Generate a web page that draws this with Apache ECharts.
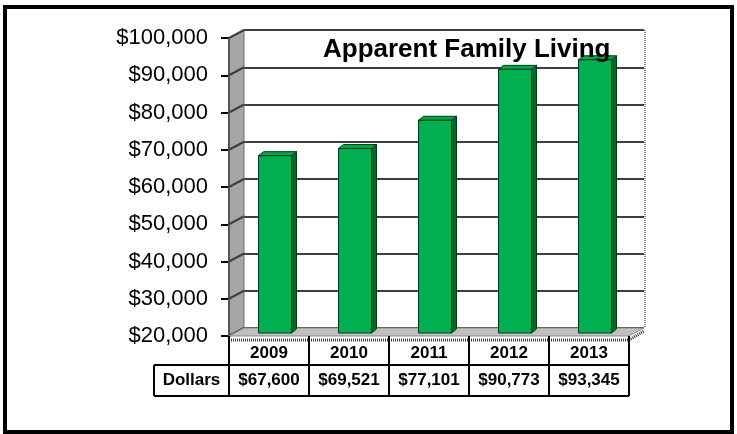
<!DOCTYPE html>
<html>
<head>
<meta charset="utf-8">
<script src="https://cdn.jsdelivr.net/npm/echarts@6/dist/echarts.min.js"></script>
<style>
  html, body { margin: 0; padding: 0; background: #fff; }
  #chart { width: 737px; height: 434px; }
</style>
</head>
<body>
<div id="chart"></div>
<script>
// Yearly figures
const years = ['2009', '2010', '2011', '2012', '2013'];
const dollars = [67600, 69521, 77101, 90773, 93345];
const rowLabel = 'Dollars';
const chartTitle = 'Apparent Family Living';
const yMin = 20000;
const yMax = 100000;
const yStep = 10000;

const FONT = '"Liberation Sans", Arial, sans-serif';
// depth of the 3D box (back wall offset from the front plane)
const DX = 15, DY = -8;
// bars sit part-way into the box
const BAR_DX = 6, BAR_DY = -3;
const BAR_W = 33, BAR_SIDE = 5, BAR_TOP = 4;

function money(v) {
  return '$' + v.toLocaleString('en-US');
}

const chart = echarts.init(document.getElementById('chart'));

// walls, floor and grid connectors on the side wall
function renderScene(params, api) {
  const bw = api.size([1, 0])[0];
  const x0 = api.coord([0, yMin])[0] - bw / 2;
  const x1 = api.coord([years.length - 1, yMin])[0] + bw / 2;
  const yTop = api.coord([0, yMax])[1];
  const yBot = api.coord([0, yMin])[1];
  const children = [];
  // left side wall
  children.push({
    type: 'polygon',
    shape: { points: [[x0, yTop], [x0 + DX, yTop + DY], [x0 + DX, yBot + DY], [x0, yBot]] },
    style: { fill: '#a6a6a6', stroke: '#6e6e6e', lineWidth: 1 }
  });
  children.push({
    type: 'line',
    shape: { x1: x0, y1: yTop, x2: x0, y2: yBot },
    style: { stroke: '#555', lineWidth: 2 }
  });
  // grid connectors across the side wall
  for (let v = yMin; v <= yMax; v += yStep) {
    const y = api.coord([0, v])[1];
    children.push({
      type: 'line',
      shape: { x1: x0, y1: y, x2: x0 + DX, y2: y + DY },
      style: { stroke: '#3f3f3f', lineWidth: 2 }
    });
  }
  // floor
  children.push({
    type: 'polygon',
    shape: { points: [[x0, yBot], [x0 + DX, yBot + DY], [x1 + DX, yBot + DY], [x1, yBot]] },
    style: { fill: '#bfbfbf', stroke: '#8c8c8c', lineWidth: 1 }
  });
  // right edge of the back wall
  children.push({
    type: 'line',
    shape: { x1: x1 + DX + 1, y1: yTop + DY, x2: x1 + DX + 1, y2: yBot + DY },
    style: { stroke: '#8a8a8a', lineWidth: 2, lineDash: [1, 1] }
  });
  // front floor edge
  children.push({
    type: 'polyline',
    shape: { points: [[x0, yBot + 4], [x1, yBot + 4], [x1 + DX, yBot + DY + 3]] },
    style: { stroke: '#3a3a3a', lineWidth: 3, lineDash: [1, 1], fill: null }
  });
  return { type: 'group', children: children };
}

function renderBar(params, api) {
  const i = api.value(0);
  const top = api.coord([i, api.value(1)]);
  const base = api.coord([i, yMin]);
  const xl = top[0] - BAR_W / 2 + BAR_DX;
  const xr = xl + BAR_W;
  const yt = top[1] + BAR_DY;
  const yb = base[1] + BAR_DY;
  return {
    type: 'group',
    children: [
      {
        type: 'polygon',
        shape: { points: [[xr, yt], [xr + BAR_SIDE, yt - BAR_TOP], [xr + BAR_SIDE, yb - BAR_TOP], [xr, yb]] },
        style: { fill: '#006a2c', stroke: '#003a17', lineWidth: 1 }
      },
      {
        type: 'polygon',
        shape: { points: [[xl, yt], [xl + BAR_SIDE, yt - BAR_TOP], [xr + BAR_SIDE, yt - BAR_TOP], [xr, yt]] },
        style: { fill: '#00a84c', stroke: '#003a17', lineWidth: 1 }
      },
      {
        type: 'rect',
        shape: { x: xl, y: yt, width: BAR_W, height: yb - yt },
        style: { fill: '#00b050', stroke: '#003a17', lineWidth: 1 }
      }
    ]
  };
}

// data table under the axis
function renderTable(params, api) {
  const i = api.value(0);
  const bw = api.size([1, 0])[0];
  const cx = api.coord([i, yMin])[0];
  const base = api.coord([i, yMin])[1];
  const xl = cx - bw / 2;
  const r1 = base + 4, r2 = base + 29, r3 = base + 60;
  const cellFont = 'bold 17px ' + FONT;
  const children = [
    { type: 'line', shape: { x1: xl, y1: base, x2: xl, y2: r3 }, style: { stroke: '#000', lineWidth: 2 } },
    { type: 'line', shape: { x1: xl + bw, y1: base, x2: xl + bw, y2: r3 }, style: { stroke: '#000', lineWidth: 2 } },
    { type: 'line', shape: { x1: xl, y1: r2, x2: xl + bw, y2: r2 }, style: { stroke: '#000', lineWidth: 2 } },
    { type: 'line', shape: { x1: xl, y1: r3, x2: xl + bw, y2: r3 }, style: { stroke: '#000', lineWidth: 2 } },
    { type: 'text', style: { text: years[i], x: cx, y: (r1 + r2) / 2 + 1, textAlign: 'center', textVerticalAlign: 'middle', font: cellFont, fill: '#000' } },
    { type: 'text', style: { text: money(dollars[i]), x: cx, y: (r2 + r3) / 2, textAlign: 'center', textVerticalAlign: 'middle', font: cellFont, fill: '#000' } }
  ];
  if (i === 0) {
    const lx = xl - 75;
    children.push(
      { type: 'line', shape: { x1: lx, y1: r2, x2: xl, y2: r2 }, style: { stroke: '#000', lineWidth: 2 } },
      { type: 'line', shape: { x1: lx, y1: r3, x2: xl, y2: r3 }, style: { stroke: '#000', lineWidth: 2 } },
      { type: 'line', shape: { x1: lx, y1: r2, x2: lx, y2: r3 }, style: { stroke: '#000', lineWidth: 2 } },
      { type: 'text', style: { text: rowLabel, x: (lx + xl) / 2, y: (r2 + r3) / 2, textAlign: 'center', textVerticalAlign: 'middle', font: cellFont, fill: '#000' } }
    );
  }
  return { type: 'group', children: children };
}

chart.setOption({
  animation: false,
  backgroundColor: '#fff',
  title: {
    text: chartTitle,
    left: 318,
    top: 32,
    textStyle: { fontFamily: FONT, fontSize: 26, fontWeight: 'bold', color: '#000' }
  },
  graphic: [{
    type: 'rect',
    shape: { x: 5, y: 7, width: 727, height: 425 },
    style: { fill: null, stroke: '#000', lineWidth: 4 },
    z: 100
  }],
  grid: [
    { left: 229, top: 38, width: 400, height: 298 },
    { left: 244, top: 30, width: 400, height: 298, show: true, backgroundColor: '#fff', borderWidth: 0 }
  ],
  xAxis: [
    { gridIndex: 0, type: 'category', data: years, show: false },
    { gridIndex: 1, type: 'category', data: years, show: false }
  ],
  yAxis: [
    {
      gridIndex: 0, type: 'value', min: yMin, max: yMax, interval: yStep,
      axisLine: { show: false },
      axisTick: { show: true, length: 8, lineStyle: { color: '#000', width: 2 } },
      axisLabel: { formatter: money, fontFamily: FONT, fontSize: 22, color: '#000', margin: 21 },
      splitLine: { show: false }
    },
    {
      gridIndex: 1, type: 'value', min: yMin, max: yMax, interval: yStep,
      axisLine: { show: false }, axisTick: { show: false }, axisLabel: { show: false },
      splitLine: { show: true, lineStyle: { color: '#3f3f3f', width: 2 } }
    }
  ],
  series: [
    {
      type: 'custom', name: 'scene', xAxisIndex: 0, yAxisIndex: 0,
      renderItem: renderScene, data: [[0, yMin]], z: 1, silent: true
    },
    {
      type: 'custom', name: rowLabel, xAxisIndex: 0, yAxisIndex: 0,
      renderItem: renderBar, data: dollars.map((v, i) => [i, v]), z: 3
    },
    {
      type: 'custom', name: 'table', xAxisIndex: 0, yAxisIndex: 0,
      renderItem: renderTable, data: years.map((y, i) => [i, yMin]), z: 4, silent: true
    }
  ]
});
</script>
</body>
</html>
